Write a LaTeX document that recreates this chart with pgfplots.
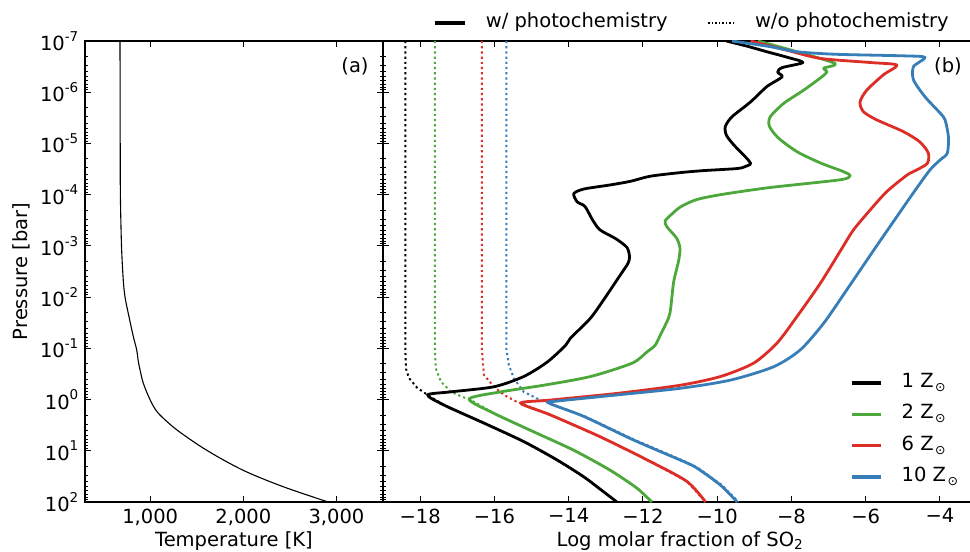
\documentclass[border=0pt]{standalone}
\usepackage{fontspec}
\setmainfont{DejaVu Sans}
\usepackage{pgfplots}
\pgfplotsset{compat=1.18}
\definecolor{cgreen}{RGB}{77,168,60}
\definecolor{cred}{RGB}{220,45,38}
\definecolor{cblue}{RGB}{55,126,184}
\newcommand\ee[1]{10\raisebox{0.47em}{\fontsize{13.5bp}{13.5bp}\selectfont #1}}
\newcommand\sun{\kern1.5bp\raisebox{-4bp}{\fontsize{12.5bp}{12.5bp}\selectfont ⊙}}
\tikzset{
  wline/.style={line width=2.8bp, line join=round},
  woline/.style={line width=2bp, dash pattern=on 2.2bp off 3bp},
}
\begin{document}
\fontsize{19.5bp}{23bp}\selectfont
\begin{tikzpicture}
\useasboundingbox (-85bp,-50bp) rectangle (885bp,502bp);
% ---------------- panel (a)
\begin{axis}[at={(0,0)}, anchor=south west, scale only axis, width=298bp, height=461bp,
  ymode=log, ymin=1e-7, ymax=1e2, y dir=reverse,
  ytick={1e-7,1e-6,1e-5,1e-4,1e-3,1e-2,1e-1,1,10,100},
  tick align=inside, major tick length=6bp, minor tick length=3bp,
  tick style={black, line width=0.8bp}, axis line style={line width=1.2bp},
  xmin=300, xmax=3500, xtick={1000,2000,3000}, xticklabels={{1,000},{2,000},{3,000}},
  yticklabels={\ee{-7},\ee{-6},\ee{-5},\ee{-4},\ee{-3},\ee{-2},\ee{-1},\ee{0},\ee{1},\ee{2}},
  xlabel={Temperature [K]}, ylabel={Pressure [bar]},
  xlabel style={at={(axis description cs:0.5,-0.085)}, anchor=center},
  ylabel style={at={(axis description cs:-0.215,0.5)}, anchor=center},
]
\addplot[black, line width=1.1bp, smooth, tension=0.5] table[x=T, y expr=10^(\thisrow{lp})] {
T lp
676 -7
677 -6
678 -5
680 -4
692 -3
711 -2.33
730 -2.0
765 -1.68
819 -1.23
855 -0.97
872 -0.75
891 -0.58
926 -0.32
998 0.0
1084 0.26
1285 0.59
1607 0.99
1997 1.38
2426 1.70
2910 2.0
};
\node at (axis description cs:0.906,0.944) {(a)};
\end{axis}
% ---------------- panel (b)
\begin{axis}[at={(298bp,0)}, anchor=south west, scale only axis, width=594bp, height=461bp,
  ymode=log, ymin=1e-7, ymax=1e2, y dir=reverse,
  ytick={1e-7,1e-6,1e-5,1e-4,1e-3,1e-2,1e-1,1,10,100},
  tick align=inside, major tick length=6bp, minor tick length=3bp,
  tick style={black, line width=0.8bp}, axis line style={line width=1.2bp},
  xmin=-19, xmax=-3, xtick={-18,-16,...,-4},
  xticklabels={−18,−16,−14,−12,−10,−8,−6,−4},
  yticklabels={}, ytick pos=left,
  xlabel={Log molar fraction of SO\textsubscript{2}},
  xlabel style={at={(axis description cs:0.5,-0.085)}, anchor=center},
  legend style={at={(axis description cs:0.786,0.279)}, anchor=north west,
    draw=none, fill=none, inner sep=0pt, row sep=12.3bp, column sep=0pt,
    nodes={inner sep=0pt, text height=14bp, text depth=5bp}},
  legend cell align=left,
  legend image code/.code={\draw[#1, line width=3.3bp] (0bp,0bp) -- (29bp,0bp); \path[draw=none] (0bp,0bp) -- (50bp,0bp);},
]
% dotted: without photochemistry
\addplot[black, woline, forget plot] table[x=v, y expr=10^(\thisrow{lp})] {
v lp
-18.4 -7
-18.4 -1.0
-18.38 -0.6
-18.3 -0.42
-18.08 -0.23
-17.80 -0.09
-17.35 0.11
-16.28 0.46
-15.21 0.82
-14.31 1.18
-13.59 1.51
-13.06 1.80
-12.70 2.00
};
\addplot[cgreen, woline, forget plot] table[x=v, y expr=10^(\thisrow{lp})] {
v lp
-17.6 -7
-17.6 -1.0
-17.58 -0.61
-17.44 -0.35
-17.17 -0.15
-16.82 -0.04
-16.68 -0.01
-16.01 0.27
-14.94 0.63
-13.86 0.99
-12.88 1.38
-12.16 1.73
-11.76 2.0
};
\addplot[cred, woline, forget plot] table[x=v, y expr=10^(\thisrow{lp})] {
v lp
-16.34 -7
-16.34 -1.0
-16.28 -0.48
-16.01 -0.25
-15.74 -0.09
-15.38 0.05
-15.29 0.07
-14.49 0.30
-13.14 0.73
-11.80 1.21
-10.81 1.60
-10.31 2.0
};
\addplot[cblue, woline, forget plot] table[x=v, y expr=10^(\thisrow{lp})] {
v lp
-15.68 -7
-15.68 -1.0
-15.61 -0.67
-15.47 -0.41
-15.21 -0.15
-14.76 0.01
-14.53 0.07
-13.55 0.33
-12.21 0.79
-10.86 1.21
-10.50 1.34
-9.87 1.67
-9.42 2.0
};
% solid: with photochemistry
\addplot[black, wline, smooth, tension=0.45] table[x=v, y expr=10^(\thisrow{lp})] {
v lp
-9.75 -7.00
-9.20 -6.90
-8.66 -6.79
-8.10 -6.68
-7.69 -6.58
-8.25 -6.48
-8.37 -6.39
-8.25 -6.30
-8.66 -6.11
-9.10 -5.81
-9.60 -5.52
-9.78 -5.33
-9.75 -5.16
-9.55 -4.97
-9.28 -4.77
-9.10 -4.61
-9.24 -4.55
-9.46 -4.51
-10.36 -4.47
-11.00 -4.43
-11.80 -4.36
-12.34 -4.26
-12.88 -4.19
-13.59 -4.11
-13.86 -4.02
-13.77 -3.86
-13.56 -3.77
-13.35 -3.50
-13.15 -3.31
-12.73 -3.14
-12.43 -2.97
-12.36 -2.79
-12.40 -2.66
-12.61 -2.43
-12.97 -2.04
-13.41 -1.59
-13.95 -1.20
-14.08 -1.06
-14.58 -0.73
-15.21 -0.45
-16.01 -0.25
-17.18 -0.15
-17.80 -0.09
-17.35 0.11
-16.28 0.46
-15.21 0.82
-14.31 1.18
-13.59 1.51
-13.06 1.80
-12.70 2.00
};
\addlegendentry{1 Z\sun}
\addplot[cgreen, wline, smooth, tension=0.45] table[x=v, y expr=10^(\thisrow{lp})] {
v lp
-8.90 -7.00
-7.85 -6.79
-6.82 -6.56
-7.13 -6.47
-7.04 -6.40
-7.18 -6.30
-7.67 -6.04
-8.21 -5.78
-8.57 -5.52
-8.59 -5.33
-8.34 -5.10
-7.85 -4.84
-7.22 -4.62
-6.60 -4.45
-6.42 -4.37
-6.69 -4.29
-8.57 -4.14
-9.91 -4.00
-10.57 -3.90
-10.99 -3.76
-11.19 -3.64
-11.40 -3.49
-11.35 -3.37
-11.09 -3.15
-11.00 -2.95
-11.04 -2.70
-11.17 -2.30
-11.25 -1.79
-11.31 -1.59
-11.53 -1.26
-11.67 -1.06
-11.89 -0.93
-12.29 -0.71
-13.41 -0.45
-14.67 -0.28
-15.83 -0.15
-16.68 -0.01
-16.01 0.27
-14.94 0.63
-13.86 0.99
-12.88 1.38
-12.16 1.73
-11.76 2.0
};
\addlegendentry{2 Z\sun}
\addplot[cred, wline, smooth, tension=0.45] table[x=v, y expr=10^(\thisrow{lp})] {
v lp
-9.10 -7.00
-8.12 -6.82
-7.22 -6.66
-5.88 -6.58
-5.16 -6.53
-5.52 -6.34
-5.97 -6.04
-6.15 -5.81
-6.06 -5.62
-5.70 -5.46
-4.98 -5.23
-4.54 -5.03
-4.31 -4.81
-4.34 -4.61
-4.63 -4.48
-4.89 -4.38
-5.43 -4.06
-5.88 -3.70
-6.33 -3.31
-6.64 -2.95
-7.22 -2.27
-7.85 -1.62
-8.39 -1.10
-9.02 -0.71
-9.91 -0.45
-10.99 -0.28
-12.70 -0.12
-14.49 0.01
-15.29 0.07
-14.49 0.30
-13.14 0.73
-11.80 1.21
-10.81 1.60
-10.31 2.0
};
\addlegendentry{6 Z\sun}
\addplot[cblue, wline, smooth, tension=0.45] table[x=v, y expr=10^(\thisrow{lp})] {
v lp
-9.60 -7.00
-8.57 -6.89
-7.85 -6.79
-6.78 -6.74
-4.98 -6.71
-4.40 -6.68
-4.71 -6.50
-4.71 -6.24
-4.40 -5.91
-3.99 -5.59
-3.86 -5.46
-3.77 -5.13
-3.80 -4.81
-3.99 -4.68
-4.27 -4.48
-4.72 -4.03
-5.16 -3.57
-5.75 -2.95
-6.51 -2.14
-7.13 -1.49
-7.76 -0.97
-8.48 -0.64
-9.64 -0.38
-10.99 -0.22
-12.70 -0.09
-14.31 0.03
-14.53 0.07
-13.59 0.33
-12.25 0.79
-10.90 1.21
-10.54 1.34
-9.91 1.67
-9.46 2.0
};
\addlegendentry{10 Z\sun}
\node at (axis description cs:0.9512,0.944) {(b)};
\end{axis}
% ---------------- top legend, first entry
\begin{axis}[at={(298bp,0)}, anchor=south west, scale only axis, width=594bp, height=461bp,
  hide axis, xmin=0, xmax=1, ymin=0, ymax=1,
  legend cell align=left,
  legend style={at={(axis description cs:0.0842,1.039)}, anchor=west,
    draw=none, fill=none, inner sep=0pt, column sep=0pt,
    nodes={inner sep=0pt, text height=14bp, text depth=5bp}},
  legend image code/.code={\draw[#1] (0bp,0bp) -- (30bp,0bp); \path[draw=none] (0bp,0bp) -- (51bp,0bp);},
]
\addlegendimage{black, line width=3.3bp}
\addlegendentry{w/ photochemistry}
\end{axis}
% ---------------- top legend, second entry
\begin{axis}[at={(298bp,0)}, anchor=south west, scale only axis, width=594bp, height=461bp,
  hide axis, xmin=0, xmax=1, ymin=0, ymax=1,
  legend cell align=left,
  legend style={at={(axis description cs:0.5455,1.039)}, anchor=west,
    draw=none, fill=none, inner sep=0pt, column sep=0pt,
    nodes={inner sep=0pt, text height=14bp, text depth=5bp}},
  legend image code/.code={\draw[#1] (0bp,0bp) -- (27bp,0bp); \path[draw=none] (0bp,0bp) -- (47bp,0bp);},
]
\addlegendimage{black, line width=1.6bp, dash pattern=on 1.5bp off 2bp}
\addlegendentry{w/o photochemistry}
\end{axis}
\end{tikzpicture}
\end{document}
